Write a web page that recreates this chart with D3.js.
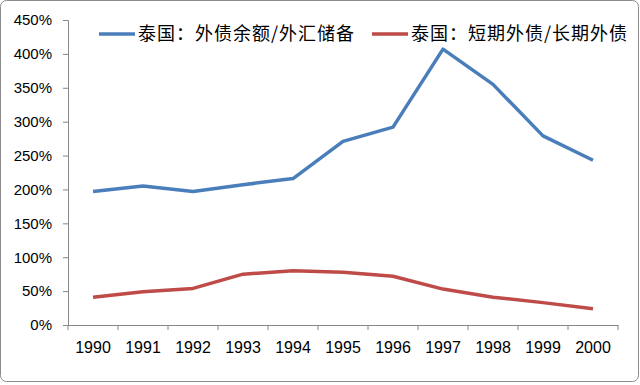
<!DOCTYPE html>
<html><head><meta charset="utf-8">
<script src="https://cdn.jsdelivr.net/npm/d3@7"></script>
<style>body{margin:0;background:#fff}svg{display:block}</style>
</head><body><svg id="c" width="640" height="385"></svg>
<script>
const years = ["1990","1991","1992","1993","1994","1995","1996","1997","1998","1999","2000"];
const debtToReserves = [197,205,197,207,216,271,292,407,355,279,243];
const shortToLong = [41,49,54,75,80,78,72,53,41,33,24];
const yTicks = [0,50,100,150,200,250,300,350,400,450];
const seriesNames = ["泰国：外债余额/外汇储备","泰国：短期外债/长期外债"];
const colors = ["#4a7ebb","#be4b48"];

const svg = d3.select("#c");
const m = {l:68, r:22, t:20, b:60};
const W = 640, H = 385;
svg.append("rect").attr("x",0.5).attr("y",0.5).attr("width",W-2).attr("height",H-4)
  .attr("rx",6).attr("fill","#fff").attr("stroke","#8c8c8c");

const x = d3.scaleBand().domain(years).range([m.l, W-m.r]);
const y = d3.scaleLinear().domain([0,450]).range([H-m.b, m.t]);
const font = "'Liberation Sans', Arial, sans-serif";

const ya = svg.append("g").attr("transform",`translate(${m.l},0)`)
  .call(d3.axisLeft(y).tickValues(yTicks).tickFormat(d=>d+"%").tickSize(5).tickPadding(11));
const xa = svg.append("g").attr("transform",`translate(0,${H-m.b})`)
  .call(d3.axisBottom(x).tickSize(0).tickPadding(17));
xa.selectAll(".bt").data(d3.range(years.length+1)).enter().append("line")
  .attr("x1",i=>m.l+i*x.step()).attr("x2",i=>m.l+i*x.step()).attr("y1",0).attr("y2",5)
  .attr("stroke","#868686");
[ya,xa].forEach(a=>{
  a.selectAll("path,line").attr("stroke","#868686");
  a.selectAll("text").attr("fill","#000").style("font-family",font);
});
ya.selectAll("text").style("font-size","15px");
xa.selectAll("text").style("font-size","16px");

const line = d3.line().x((d,i)=>x(years[i])+x.bandwidth()/2).y(d=>y(d));
[debtToReserves, shortToLong].forEach((s,k)=>{
  svg.append("path").datum(s).attr("d",line).attr("fill","none")
    .attr("stroke",colors[k]).attr("stroke-width",3.5).attr("stroke-linejoin","round");
});

const lg = [{x:99},{x:372}];
lg.forEach((p,k)=>{
  svg.append("line").attr("x1",p.x).attr("x2",p.x+36).attr("y1",34).attr("y2",34)
    .attr("stroke",colors[k]).attr("stroke-width",3.5);
  svg.append("text").attr("x",p.x+39).attr("y",40).text(seriesNames[k])
    .style("font-family","'Noto Sans CJK SC', sans-serif").style("font-size","18px")
    .style("letter-spacing","1px").attr("fill","#000");
});
</script></body></html>
